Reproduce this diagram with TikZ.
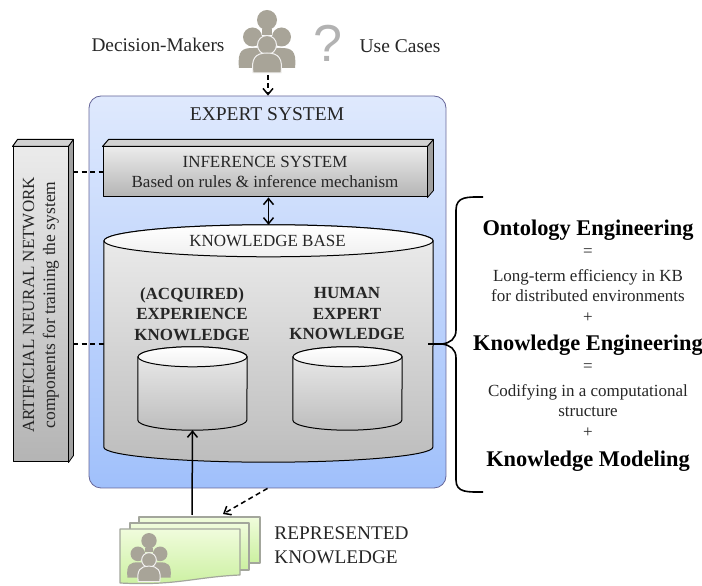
\documentclass[tikz,border=0pt]{standalone}
\usepackage{fontspec}
\setmainfont{Liberation Serif}
\newfontfamily\marksans{Liberation Sans}
\usetikzlibrary{arrows.meta}
\definecolor{inkgrey}{HTML}{262626}
\definecolor{crowdgrey}{HTML}{A8A498}
\definecolor{sheetedge}{HTML}{A3A69C}
\definecolor{sheettop}{HTML}{F0FCDC}
\definecolor{sheetlow}{HTML}{CBF0A0}
\definecolor{paneltop}{HTML}{DFE9FD}
\definecolor{panellow}{HTML}{A0C0FB}
\definecolor{slabtop}{HTML}{EBEBEB}
\definecolor{slablow}{HTML}{B4B4B4}
\definecolor{drumtop}{HTML}{EDEDED}
\definecolor{drumlow}{HTML}{BDBDBD}
\tikzset{
	txt/.style={text=inkgrey, inner sep=0pt, align=center, font=\fontsize{#1}{20}\selectfont},
	head/.style={text=black, inner sep=0pt, font=\fontsize{22.4}{24}\selectfont\bfseries},
	sub/.style={text=inkgrey, inner sep=0pt, align=center, font=\fontsize{#1}{20.5}\selectfont\bfseries},
	slab/.style={draw=black, line width=1pt, top color=slabtop, bottom color=slablow, inner sep=0pt},
	lid/.style={draw=black, line width=1pt, fill=gray!35},
	flank/.style={draw=black, line width=.8pt, fill=gray!75},
	drum/.style={inner sep=0pt},
	drumside/.style={draw=black, line width=1pt},
	link/.style={line width=1.5pt, black},
	dashlink/.style={link, dash pattern=on 5pt off 3.5pt},
	sheet/.style={draw=sheetedge, line width=1.2pt, top color=sheettop, bottom color=sheetlow},
	people/.pic={
		\fill[crowdgrey] (0,25) circle (10) (-14.5,8) circle (9.5) (14.5,8) circle (9.5);
		\fill[crowdgrey] (-5,10) rectangle (5,16);
		\fill[crowdgrey] (-28,-23) .. controls (-30,-5) and (-24,-3) .. (-14,-3) -- (14,-3) .. controls (24,-3) and (30,-5) .. (28,-23) -- cycle;
		\fill[crowdgrey,draw=white!85!crowdgrey,line width=1pt] (0,0) circle (9.5);
		\fill[crowdgrey,draw=white!85!crowdgrey,line width=1pt] (-14,-28) .. controls (-16,-14) and (-12,-8) .. (0,-8) .. controls (12,-8) and (16,-14) .. (14,-28) -- cycle;
	}
}
% top and right faces of a block
\newcommand{\slabfaces}[2]{
	\draw[lid] (#1.north west)--++(#2,7)--([shift={(#2,7)}]#1.north east)--(#1.north east)--cycle;
	\draw[flank] (#1.north east)--++(#2,7)--([shift={(#2,7)}]#1.south east)--(#1.south east)--cycle;
}
% drum around a rectangle node: name, x radius, top y radius, bottom y radius
\newcommand{\drumfaces}[4]{
	\draw[drumside,top color=drumtop,bottom color=drumlow] (#1.north west)--(#1.south west) arc[x radius=#2,y radius=#4,start angle=180,end angle=360]--(#1.north east) arc[x radius=#2,y radius=#3,start angle=0,end angle=180]--cycle;
	\draw[drumside,top color=white,bottom color=gray!12] (#1.north) ellipse[x radius=#2,y radius=#3];
}
\begin{document}
\begin{tikzpicture}[x=1pt,y=1pt,>={Straight Barb[length=6pt,width=10pt]},line join=round]
	\useasboundingbox (0,0) rectangle (702,586);
	% the system box
	\node[draw=gray!80!blue, line width=.8pt, rounded corners=12pt, top color=paneltop, bottom color=panellow, minimum width=357pt, minimum height=392pt] (expert) at (267.5,294) {};
	\node[txt=19.5] (expertname) at (267,472) {EXPERT SYSTEM};
	% top row
	\node[txt=19.3] (makers) at (158,541) {Decision-Makers};
	\pic at (267,541) {people};
	\coordinate (crowdfoot) at (268,511);
	\node[text=gray!60, inner sep=0pt, font=\fontsize{52}{52}\selectfont\marksans] (query) at (328,543) {?};
	\node[txt=19.5] (usecases) at (400,540) {Use Cases};
	% blocks
	\node[slab, minimum width=324pt, minimum height=50pt] (inference) at (265,414) {};
	\slabfaces{inference}{6}
	\node[txt=17] (inferencetext) at (265,414) {INFERENCE SYSTEM\\Based on rules \& inference mechanism};
	\node[slab, minimum width=55pt, minimum height=315pt] (ann) at (40.5,281.5) {};
	\slabfaces{ann}{5}
	\node[txt=17, rotate=90] (anntext) at (41,281) {ARTIFICIAL NEURAL NETWORK\\[1pt]{\fontsize{17.5}{21}\selectfont components for training the system}};
	\coordinate (annup) at (73,414);
	\coordinate (annlow) at (73,242);
	% knowledge base
	\node[drum, minimum width=329pt, minimum height=206pt] (kb) at (268.5,242) {};
	\drumfaces{kb}{164.5}{16}{15}
	\coordinate (kbtop) at ([yshift=16pt]kb.north);
	\node[txt=17] (kbname) at (267.5,345) {KNOWLEDGE BASE};
	\node[sub=17] (acquired) at (192,272) {(ACQUIRED)\\EXPERIENCE\\KNOWLEDGE};
	\node[sub=17] (human) at (347,272) {HUMAN\\EXPERT\\KNOWLEDGE};
	\node[drum, minimum width=109pt, minimum height=63pt] (expdrum) at (192.5,197.5) {};
	\drumfaces{expdrum}{54.5}{10}{10}
	\node[drum, minimum width=109pt, minimum height=63pt] (humandrum) at (347.5,197.5) {};
	\drumfaces{humandrum}{54.5}{10}{10}
	\coordinate (expfoot) at ([yshift=-10pt]expdrum.south);
	% sheets
	\draw[sheet] (139,69) rectangle (260,23);
	\draw[sheet] (130,63) rectangle (249,16);
	\draw[sheet] (120,57) -- (240,57) -- (240,11) .. controls (195,9) and (175,0) .. (120,3) -- cycle;
	\pic[scale=.77] at (149,26) {people};
	\coordinate (sheetup) at (192,71);
	\coordinate (sheetin) at (223,72);
	\node[text=inkgrey, inner sep=0pt, align=left, font=\fontsize{19.3}{24}\selectfont] (represented) at (341.5,41) {REPRESENTED\\KNOWLEDGE};
	% links
	\draw[dashlink,->] (crowdfoot) -- (expert.north -| crowdfoot);
	\draw[link,<->] (inference.south -| kbtop) -- (kbtop);
	\draw[dashlink] (annup) -- (inference.west);
	\draw[dashlink] (annlow) -- (kb.west);
	\draw[link,->] (sheetup) -- (expfoot);
	\draw[dashlink,->] (expert.south) -- (sheetin);
	% the brace
	\coordinate (braceup) at (483,389);
	\coordinate (bracelow) at (483,94);
	\draw[black, line width=1.6pt] (braceup) .. controls (468,389) and (456,390) .. (456,376) -- (456,256) .. controls (456,247) and (450,243) .. (442,242) -- ([xshift=-5pt]kb.east);
	\draw[black, line width=1.6pt] (bracelow) .. controls (468,94) and (456,93) .. (456,106) -- (456,228) .. controls (456,237) and (450,241) .. (442,242);
	% right column
	\node[head] (ontology) at (588,356) {Ontology Engineering};
	\node[txt=17] (eqone) at (588,333) {=};
	\node[txt=17] (longterm) at (588,300) {Long-term efficiency in KB\\for distributed environments};
	\node[txt=17] (plusone) at (588,268) {+};
	\node[head] (engineering) at (588,241) {Knowledge Engineering};
	\node[txt=17] (eqtwo) at (588,218) {=};
	\node[txt=17] (codifying) at (588,185) {Codifying in a computational\\structure};
	\node[txt=17] (plustwo) at (588,153) {+};
	\node[head] (modeling) at (588,125) {Knowledge Modeling};
\end{tikzpicture}
\end{document}
